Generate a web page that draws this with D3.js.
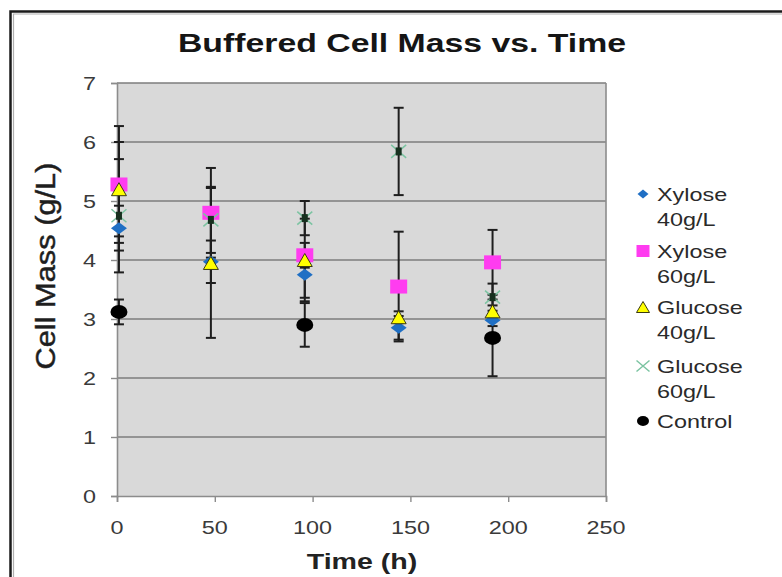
<!DOCTYPE html>
<html><head><meta charset="utf-8">
<script src="https://cdn.jsdelivr.net/npm/d3@7"></script>
<style>body{margin:0;background:#fff}svg{display:block}</style>
</head><body>
<script>
// ---- data ----
const times = [1, 48, 96, 144, 192];
const xylose40 = [4.54, 3.97, 3.75, 2.85, 2.98];
const xylose40Err = [0.38, 0.36, 0.39, 0.2, 0.1];
const xylose60 = [5.28, 4.8, 4.08, 3.55, 3.96];
const xylose60Err = [0.99, 0.76, 0.21, 0.93, 0.55];
const glucose40 = [5.2, 3.95, 4.0, 3.03, 3.13];
const glucose40Err = [0.8, 1.27, 0.7, 0.1, 0.1];
const glucose60 = [4.75, 4.68, 4.71, 5.84, 3.37];
const glucose60Err = [0.96, 0.56, 0.29, 0.74, 0.23];
const control = [3.12, null, 2.9, null, 2.68];
const controlErr = [0.21, null, 0.37, null, 0.65];
const seriesNames = ["Xylose 40g/L", "Xylose 60g/L", "Glucose 40g/L", "Glucose 60g/L", "Control"];
const xTicks = [0, 50, 100, 150, 200, 250];
const yTicks = [0, 1, 2, 3, 4, 5, 6, 7];

const W = 782, H = 577, SX = 1.3;
const svg = d3.select("body").append("svg").attr("width", W).attr("height", H);
const FONT = "'Liberation Sans', Arial, sans-serif";

// outer frame
svg.append("rect").attr("x", 10.5).attr("y", 11.5).attr("width", 800).attr("height", 600)
  .attr("fill", "none").attr("stroke", "#1a1a1a").attr("stroke-width", 2.5);
svg.append("path").attr("d", "M13.5,600 V14 H800").attr("fill", "none").attr("stroke", "#b0b0b0").attr("stroke-width", 1.2);

const L = 117, R = 606, T = 83, B = 496;
const x = d3.scaleLinear().domain([0, 250]).range([L, R]);
const y = d3.scaleLinear().domain([0, 7]).range([B, T]);

svg.append("rect").attr("x", L).attr("y", T).attr("width", R - L).attr("height", B - T).attr("fill", "#d9d9d9");

// gridlines
svg.append("g").selectAll("line").data(yTicks.slice(1)).join("line")
  .attr("x1", L).attr("x2", R).attr("y1", d => y(d)).attr("y2", d => y(d))
  .attr("stroke", "#7d7d7d").attr("stroke-width", 1.6);
// right border
svg.append("line").attr("x1", R).attr("x2", R).attr("y1", T).attr("y2", B).attr("stroke", "#8c8c8c").attr("stroke-width", 1.6);

function stext(g, txt, px, py, size, anchor, opts = {}) {
  return g.append("text").text(txt)
    .attr("transform", `translate(${px},${py}) scale(${SX},1)`)
    .attr("text-anchor", anchor).attr("font-family", FONT)
    .attr("font-size", size).attr("font-weight", opts.bold ? "bold" : "normal")
    .attr("fill", opts.fill || "#333");
}

// axes
const yAxis = svg.append("g").attr("transform", `translate(${L},0)`)
  .call(d3.axisLeft(y).tickValues(yTicks).tickSize(6).tickFormat(""));
const xAxis = svg.append("g").attr("transform", `translate(0,${B})`)
  .call(d3.axisBottom(x).tickValues(xTicks).tickSize(6).tickFormat(""));
[yAxis, xAxis].forEach(a => {
  a.select(".domain").attr("stroke", "#8c8c8c").attr("stroke-width", 1.6);
  a.selectAll(".tick line").attr("stroke", "#8c8c8c").attr("stroke-width", 1.4);
});
const tl = svg.append("g");
yTicks.forEach(v => stext(tl, String(v), 96, y(v) + 6.5, 18, "end", {fill: "#3a3a3a"}));
xTicks.forEach(v => stext(tl, String(v), x(v), 534, 18, "middle", {fill: "#3a3a3a"}));

// titles
stext(svg, "Buffered Cell Mass vs. Time", 402, 52, 26, "middle", {bold: true, fill: "#151515"});
stext(svg, "Time (h)", 362, 569, 22, "middle", {bold: true, fill: "#222"});
svg.append("text").text("Cell Mass (g/L)")
  .attr("transform", `translate(55,266) scale(${SX},1) rotate(-90)`)
  .attr("text-anchor", "middle").attr("font-family", FONT).attr("font-size", 21)
  .attr("font-weight", "normal").attr("fill", "#1e1e1e").attr("stroke", "#1e1e1e").attr("stroke-width", 0.35)
  .attr("textLength", 207).attr("lengthAdjust", "spacingAndGlyphs");

// series
const series = [
  {name: seriesNames[0], vals: xylose40, err: xylose40Err, shape: "diamond", fill: "#1f6fc4"},
  {name: seriesNames[1], vals: xylose60, err: xylose60Err, shape: "square", fill: "#ff3cf0"},
  {name: seriesNames[2], vals: glucose40, err: glucose40Err, shape: "triangle", fill: "#ffff00"},
  {name: seriesNames[3], vals: glucose60, err: glucose60Err, shape: "cross", fill: "#7cc4a2"},
  {name: seriesNames[4], vals: control, err: controlErr, shape: "circle", fill: "#000"}
];

function markerPath(shape, w, h) {
  const a = w / 2, b = h / 2;
  switch (shape) {
    case "diamond": return `M0,${-b}L${a},0L0,${b}L${-a},0Z`;
    case "square": return `M${-a},${-b}H${a}V${b}H${-a}Z`;
    case "triangle": return `M0,${-b}L${a},${b}H${-a}Z`;
    case "cross": return `M${-a},${-b}L${a},${b}M${a},${-b}L${-a},${b}`;
  }
}
function drawMarker(g, s, cx, cy, w, h) {
  if (s.shape === "circle") {
    g.append("ellipse").attr("cx", cx).attr("cy", cy).attr("rx", w / 2).attr("ry", h / 2).attr("fill", s.fill);
  } else if (s.shape === "cross") {
    g.append("path").attr("d", markerPath("cross", w, h)).attr("transform", `translate(${cx},${cy})`)
      .attr("fill", "none").attr("stroke", s.fill).attr("stroke-width", 1.5);
  } else {
    g.append("path").attr("d", markerPath(s.shape, w, h)).attr("transform", `translate(${cx},${cy})`)
      .attr("fill", s.fill)
      .attr("stroke", s.shape === "triangle" ? "#3a3a10" : "none").attr("stroke-width", 1);
  }
}
const sizes = {diamond: [16, 12], square: [17, 14], triangle: [15, 13], cross: [15, 13], circle: [17, 14]};

// error bars
const eg = svg.append("g");
series.forEach(s => {
  s.vals.forEach((v, i) => {
    if (v == null) return;
    const e = s.err[i], cx = x(times[i]);
    eg.append("line").attr("x1", cx).attr("x2", cx).attr("y1", y(v + e)).attr("y2", y(v - e))
      .attr("stroke", "#1e1e1e").attr("stroke-width", 2);
    [v + e, v - e].forEach(c => eg.append("line").attr("x1", cx - 5).attr("x2", cx + 5)
      .attr("y1", y(c)).attr("y2", y(c)).attr("stroke", "#1e1e1e").attr("stroke-width", 2));
  });
});
// markers
const mg = svg.append("g");
series.forEach(s => {
  s.vals.forEach((v, i) => {
    if (v == null) return;
    const [w, h] = sizes[s.shape];
    drawMarker(mg, s, x(times[i]), y(v), w, h);
  });
});
// dark centers for cross markers (error bar through it)
series.filter(s => s.shape === "cross").forEach(s => s.vals.forEach((v, i) => {
  mg.append("rect").attr("x", x(times[i]) - 3).attr("y", y(v) - 4).attr("width", 6).attr("height", 8).attr("fill", "#17301f");
}));

// legend
const lg = svg.append("g");
const legY = [195, 252, 308, 367, 422];
const legSizes = {diamond: [11, 9], square: [13, 12], triangle: [13, 11], cross: [13, 11], circle: [12, 10]};
series.forEach((s, i) => {
  const [w, h] = legSizes[s.shape];
  drawMarker(lg, s, 643, legY[i] - 1, w, h);
  const parts = i === 4 ? ["Control"] : [s.name.split(" ")[0], s.name.split(" ")[1]];
  parts.forEach((p, j) => stext(lg, p, 657, legY[i] + 6 + j * 25, 18, "start", {fill: "#2a2a2a"}));
});
</script>
</body></html>
